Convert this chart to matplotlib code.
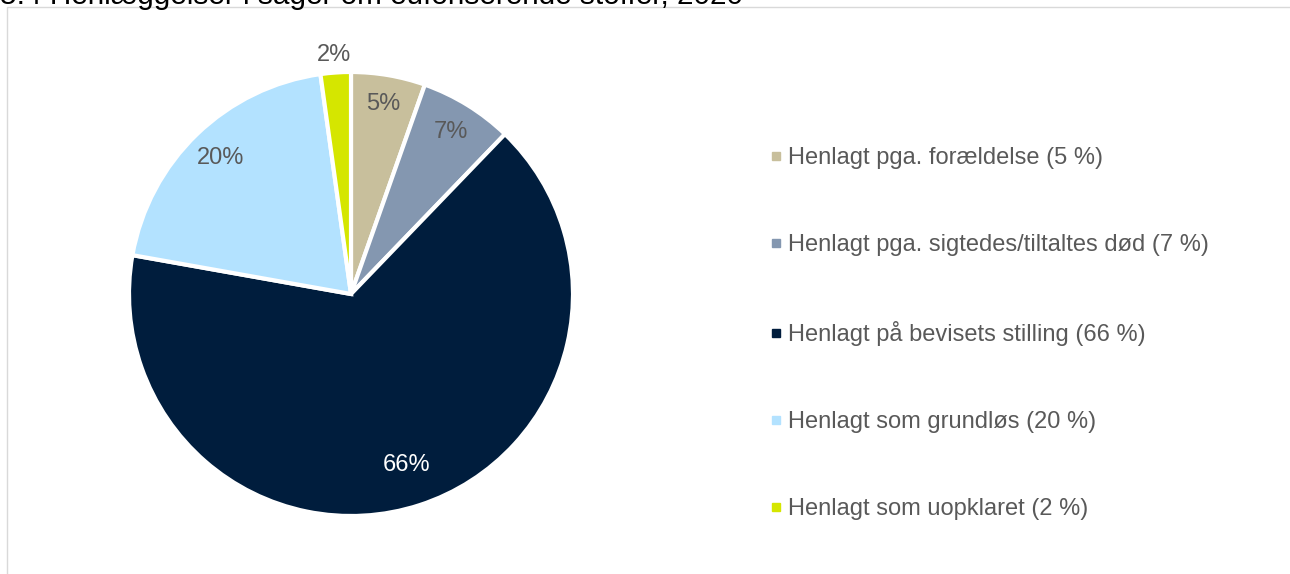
import matplotlib.pyplot as plt
import numpy as np
from matplotlib.patches import Rectangle
from matplotlib.lines import Line2D

plt.rcParams['font.family'] = ['Liberation Sans', 'DejaVu Sans']

# data
categories = ['Henlagt pga. forældelse', 'Henlagt pga. sigtedes/tiltaltes død',
              'Henlagt på bevisets stilling', 'Henlagt som grundløs', 'Henlagt som uopklaret']
shares = [5.4, 6.8, 65.6, 20.0, 2.2]
pct_labels = ['5%', '7%', '66%', '20%', '2%']
legend_pct = ['5 %', '7 %', '66 %', '20 %', '2 %']
colors = ['#C8BF9C', '#8497B0', '#001D3D', '#B3E2FF', '#D5E600']
label_colors = ['#595959', '#595959', '#FFFFFF', '#595959', '#595959']
label_dist = [0.87, 0.86, 0.81, 0.85, 1.08]

W, H = 1290, 574
fig = plt.figure(figsize=(W / 100, H / 100), dpi=100)

# light frame round the chart area
fig.add_artist(Rectangle((7 / W, -0.1), 1.2, (H - 7) / H + 0.1, transform=fig.transFigure,
                         fill=False, edgecolor='#D9D9D9', linewidth=1))

# title is cut by the top edge in the original
fig.text(0.0, 1 - 4 / H, '5.4 Henlæggelser i sager om euforiserende stoffer, 2020',
         fontsize=21.4, color='#000000', ha='left', va='baseline')

cx, cy, r = 351, 294, 222
ax = fig.add_axes([(cx - r) / W, (H - cy - r) / H, 2 * r / W, 2 * r / H])
wedges, _ = ax.pie(shares, colors=colors, startangle=90, counterclock=False,
                   wedgeprops=dict(edgecolor='white', linewidth=3))
ax.set_xlim(-1, 1)
ax.set_ylim(-1, 1)
ax.set_aspect('equal')
ax.axis('off')

for w, lab, c, d in zip(wedges, pct_labels, label_colors, label_dist):
    ang = np.deg2rad((w.theta1 + w.theta2) / 2)
    ax.text(d * np.cos(ang), d * np.sin(ang), lab, color=c, fontsize=17,
            ha='center', va='center')

handles = [Line2D([], [], marker='s', linestyle='none', markersize=6,
                  markerfacecolor=c, markeredgecolor=c) for c in colors]
labels = [f'{cat} ({p})' for cat, p in zip(categories, legend_pct)]
fig.legend(handles, labels, loc='upper left', bbox_to_anchor=(749 / W, 1 - 126 / H),
           frameon=False, fontsize=17, labelcolor='#595959', handlelength=0.5,
           handletextpad=0.25, labelspacing=2.75)

fig.savefig('out.png', dpi=100)
